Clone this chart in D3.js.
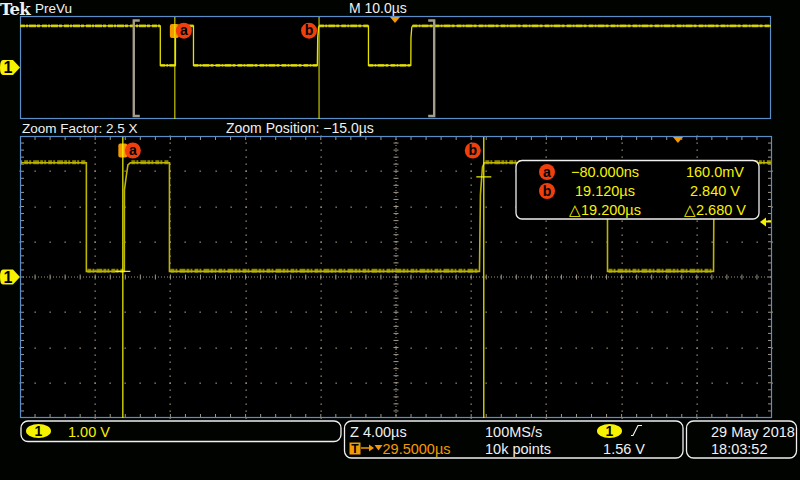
<!DOCTYPE html>
<html>
<head>
<meta charset="utf-8">
<script src="https://cdn.jsdelivr.net/npm/d3@7"></script>
<style>
body { margin: 0; background: #010301; }
svg { display: block; }
text { font-family: "Liberation Sans", Arial, sans-serif; }
</style>
</head>
<body>
<script>
// ---- values read from the screen ----
// channel 1 trace : time (us) / volts
var trace_t = [-20.7, -2.02, -2.02, 0.0, 0.005, 0.11, 0.19, 0.32, 2.40, 2.40, 18.89, 18.94, 19.05, 19.15, 25.70, 25.70, 31.34, 31.36, 31.47, 31.57, 79.3];
var trace_v = [3.24, 3.24, 0.16, 0.16, 2.47, 2.89, 3.18, 3.24, 3.24, 0.16, 0.16, 2.33, 3.12, 3.24, 3.24, 0.16, 0.16, 2.33, 3.12, 3.24, 3.24];

// cursors
var cursor_names = ["a", "b"];
var cursor_t = [-0.08, 19.12];
var cursor_v = [0.16, 2.84];

// readout box
var readout_time = ["\u221280.000ns", "19.120\u00b5s", "\u25b319.200\u00b5s"];
var readout_volt = ["160.0mV", "2.840 V", "\u25b32.680 V"];

// trigger
var trigger_t = 29.5;
var trigger_v = 1.56;

// time windows (us) and volts
var main_window = [-5.55, 34.45];
var prevu_window = [-20.7, 79.3];
var volt_window = [-4, 4];

var W = 800, H = 480;
var white = "#f0f0f0", yellow = "#f6f200", orange = "#f49a00", red = "#f03e0c";
var blue = "#5b8dc8", gridc = "#a09682";

var svg = d3.select("body").append("svg")
  .attr("width", W)
  .attr("height", H);

svg.append("rect").attr("width", W).attr("height", H).attr("fill", "#010301");

// scales
var xMain = d3.scaleLinear().domain(main_window).range([20, 772]);
var yMain = d3.scaleLinear().domain(volt_window).range([418, 136]);
var xUp = d3.scaleLinear().domain(prevu_window).range([20, 771]);
var yUp = d3.scaleLinear().domain(volt_window).range([119, 16]);
// graticule divisions
var gx = d3.scaleLinear().domain([0, 10]).range([20, 772]);
var gy = d3.scaleLinear().domain([0, 8]).range([136, 418]);

var defs = svg.append("defs");
defs.append("clipPath").attr("id", "clipMain")
  .append("rect").attr("x", 20).attr("y", 136).attr("width", 752).attr("height", 282);
defs.append("clipPath").attr("id", "clipUp")
  .append("rect").attr("x", 20).attr("y", 16).attr("width", 751).attr("height", 103);

var pts = trace_t.map(function(t, i){ return [t, trace_v[i]]; });

// flat pieces of the trace, used for the noise band
var flats = [];
for (var i = 0; i < pts.length - 1; i++) {
  if (pts[i][1] == pts[i+1][1] && pts[i][0] != pts[i+1][0]) flats.push([pts[i], pts[i+1]]);
}

// ---------------- header texts ----------------
svg.append("text").attr("x", 0).attr("y", 14.5)
  .style("font-family", "DejaVu Serif").style("font-weight", "bold")
  .style("font-size", "16.5px").style("letter-spacing", "-0.8px")
  .attr("fill", white).text("Tek");
svg.append("text").attr("x", 35).attr("y", 13).style("font-size", "13.5px")
  .attr("fill", white).text("PreVu");
svg.append("text").attr("x", 349).attr("y", 13).style("font-size", "14px")
  .attr("fill", white).text("M 10.0\u00b5s");
svg.append("text").attr("x", 22).attr("y", 132.5).style("font-size", "13.5px")
  .attr("fill", white).text("Zoom Factor: 2.5 X");
svg.append("text").attr("x", 226).attr("y", 132.5).style("font-size", "14px")
  .attr("fill", white).text("Zoom Position: \u221215.0\u00b5s");

// ---------------- PreVu (upper) ----------------
var gUp = svg.append("g");
gUp.append("rect").attr("x", 20.5).attr("y", 16.5).attr("width", 750).attr("height", 102)
  .attr("fill", "#000").attr("stroke", blue).attr("stroke-width", 1.2);

var lineUp = d3.line().x(function(d){ return xUp(d[0]); }).y(function(d){ return yUp(d[1]); });

gUp.append("g").attr("clip-path", "url(#clipUp)")
  .selectAll("line").data(flats).enter().append("line")
  .attr("x1", function(d){ return xUp(d[0][0]); })
  .attr("x2", function(d){ return xUp(d[1][0]); })
  .attr("y1", function(d){ return yUp(d[0][1]); })
  .attr("y2", function(d){ return yUp(d[1][1]); })
  .attr("stroke", "#b9b400").attr("stroke-width", 2.8)
  .attr("stroke-dasharray", "5,1,2,1,7,1,3,2");

gUp.append("path").attr("clip-path", "url(#clipUp)")
  .attr("d", lineUp(pts))
  .attr("fill", "none").attr("stroke", "#e6e200").attr("stroke-width", 1.3);

// zoom window brackets
var bl = xUp(main_window[0]), br = xUp(main_window[1]);
gUp.append("path").attr("d", "M" + (bl + 6) + ",20.5H" + bl + "V116H" + (bl + 6))
  .attr("fill", "none").attr("stroke", "#a39d8b").attr("stroke-width", 2.4);
gUp.append("path").attr("d", "M" + (br - 6) + ",20.5H" + br + "V116H" + (br - 6))
  .attr("fill", "none").attr("stroke", "#a39d8b").attr("stroke-width", 2.4);

// trigger position marker
var tx = xUp(trigger_t) - 2;
gUp.append("path").attr("d", "M" + (tx - 5) + ",17L" + (tx + 5) + ",17L" + tx + ",23Z").attr("fill", orange);

// ---------------- main (zoomed) graticule ----------------
var gMain = svg.append("g");
gMain.append("rect").attr("x", 20).attr("y", 136).attr("width", 752).attr("height", 282).attr("fill", "#000");

var dots = [];
d3.range(1, 10).forEach(function(i){
  if (i == 5) return;
  d3.range(0, 41).forEach(function(j){ dots.push([gx(i), gy(j / 5)]); });
});
d3.range(1, 8).forEach(function(k){
  if (k == 4) return;
  d3.range(0, 51).forEach(function(j){ dots.push([gx(j / 5), gy(k)]); });
});
gMain.append("g").selectAll("rect").data(dots).enter().append("rect")
  .attr("x", function(d){ return Math.round(d[0]) - 0.5; })
  .attr("y", function(d){ return Math.round(d[1]) - 0.5; })
  .attr("width", 1.3).attr("height", 1.3).attr("fill", gridc);

// centre lines
gMain.append("line").attr("x1", 20).attr("x2", 772).attr("y1", gy(4)).attr("y2", gy(4))
  .attr("stroke", gridc).attr("stroke-width", 1).attr("stroke-dasharray", "1,2");
gMain.append("line").attr("x1", gx(5)).attr("x2", gx(5)).attr("y1", 136).attr("y2", 418)
  .attr("stroke", gridc).attr("stroke-width", 1).attr("stroke-dasharray", "1,2");
gMain.append("g").selectAll("line").data(d3.range(1, 50)).enter().append("line")
  .attr("x1", function(d){ return gx(d / 5); }).attr("x2", function(d){ return gx(d / 5); })
  .attr("y1", gy(4) - 2.5).attr("y2", gy(4) + 2.5)
  .attr("stroke", gridc).attr("stroke-width", 1);
gMain.append("g").selectAll("line").data(d3.range(1, 40)).enter().append("line")
  .attr("y1", function(d){ return gy(d / 5); }).attr("y2", function(d){ return gy(d / 5); })
  .attr("x1", gx(5) - 2.5).attr("x2", gx(5) + 2.5)
  .attr("stroke", gridc).attr("stroke-width", 1);

// border ticks
var edge = gMain.append("g").attr("stroke", gridc).attr("stroke-width", 1);
d3.range(1, 40).forEach(function(j){
  edge.append("line").attr("x1", 21).attr("x2", 24).attr("y1", gy(j / 5)).attr("y2", gy(j / 5));
  edge.append("line").attr("x1", 768).attr("x2", 771).attr("y1", gy(j / 5)).attr("y2", gy(j / 5));
});
d3.range(1, 50).forEach(function(j){
  edge.append("line").attr("y1", 137).attr("y2", 140).attr("x1", gx(j / 5)).attr("x2", gx(j / 5));
  edge.append("line").attr("y1", 414).attr("y2", 417).attr("x1", gx(j / 5)).attr("x2", gx(j / 5));
});

// ---------------- main trace ----------------
var lineMain = d3.line().x(function(d){ return xMain(d[0]); }).y(function(d){ return yMain(d[1]); });

gMain.append("g").attr("clip-path", "url(#clipMain)")
  .selectAll("line").data(flats).enter().append("line")
  .attr("x1", function(d){ return xMain(d[0][0]) + 1; })
  .attr("x2", function(d){ return xMain(d[1][0]) - 1; })
  .attr("y1", function(d){ return yMain(d[0][1]) - 0.5; })
  .attr("y2", function(d){ return yMain(d[1][1]) - 0.5; })
  .attr("stroke", "#8d8800").attr("stroke-width", 4)
  .attr("stroke-dasharray", "4,1,2,2,6,1,3,1,2,2");

gMain.append("path").attr("clip-path", "url(#clipMain)")
  .attr("d", lineMain(pts))
  .attr("fill", "none").attr("stroke", "#bdb500").attr("stroke-width", 1.6);

// border of main window
gMain.append("rect").attr("x", 20.5).attr("y", 136.5).attr("width", 751).attr("height", 281)
  .attr("fill", "none").attr("stroke", blue).attr("stroke-width", 1.2);

// trigger position marker in main
var tm = xMain(trigger_t) - 1;
gMain.append("path").attr("d", "M" + (tm - 5) + ",137L" + (tm + 5) + ",137L" + tm + ",143Z").attr("fill", orange);

// trigger level marker (right)
var ty = yMain(trigger_v);
gMain.append("path").attr("d", "M760," + ty + "L766," + (ty - 4.5) + "L766," + (ty + 4.5) + "Z").attr("fill", yellow);
gMain.append("line").attr("x1", 765).attr("x2", 771).attr("y1", ty - 0.5).attr("y2", ty - 0.5)
  .attr("stroke", yellow).attr("stroke-width", 2);

// ---------------- cursors ----------------
function draw_marker(g, x, y, name){
  g.append("circle").attr("cx", x).attr("cy", y).attr("r", 8).attr("fill", red);
  g.append("text").attr("x", x).attr("y", y + 4.5).attr("text-anchor", "middle")
    .style("font-size", "14px").style("font-weight", "bold").attr("fill", "#000").text(name);
}

cursor_t.forEach(function(t, i){
  var cx = xUp(t);
  var off = (i == 0) ? 9 : -10;
  if (i == 0) {
    gUp.append("rect").attr("x", cx - 5).attr("y", 24).attr("width", 9).attr("height", 14).attr("rx", 2).attr("fill", orange);
  }
  gUp.append("line").attr("x1", cx).attr("x2", cx).attr("y1", 17).attr("y2", 119)
    .attr("stroke", "#eeee00").attr("stroke-width", 1);
  draw_marker(gUp, cx + off, 30.7, cursor_names[i]);

  var mx = xMain(t);
  var moff = (i == 0) ? 10 : -11;
  if (i == 0) {
    gMain.append("rect").attr("x", mx - 4.5).attr("y", 143.5).attr("width", 9).attr("height", 14).attr("rx", 2).attr("fill", orange);
  }
  gMain.append("line").attr("x1", mx).attr("x2", mx).attr("y1", 137).attr("y2", 418)
    .attr("stroke", "#f8f800").attr("stroke-width", 1.2);
  gMain.append("line").attr("x1", mx - 7.5).attr("x2", mx + 7.5)
    .attr("y1", yMain(cursor_v[i])).attr("y2", yMain(cursor_v[i]))
    .attr("stroke", "#f8f800").attr("stroke-width", 1.2);
  draw_marker(gMain, mx + moff, 150.5, cursor_names[i]);
});

// readout box
var rb = svg.append("g");
rb.append("rect").attr("x", 516).attr("y", 160.5).attr("width", 243).attr("height", 58.5).attr("rx", 6)
  .attr("fill", "#000").attr("stroke", white).attr("stroke-width", 1.3);
var rows = [177, 196, 214.5];
rows.forEach(function(y, i){
  if (i < 2) draw_marker(rb, 547, y - 5, cursor_names[i]);
  rb.append("text").attr("x", 605).attr("y", y).attr("text-anchor", "middle")
    .style("font-size", "14.5px").attr("fill", yellow).text(readout_time[i]);
  rb.append("text").attr("x", 715).attr("y", y).attr("text-anchor", "middle")
    .style("font-size", "14.5px").attr("fill", yellow).text(readout_volt[i]);
});

// channel 1 ground markers
function ground_marker(y){
  svg.append("path")
    .attr("d", "M3," + (y - 7.5) + "H13L20," + y + "L13," + (y + 7.5) + "H3Q0," + (y + 7.5) + " 0," + y + "Q0," + (y - 7.5) + " 3," + (y - 7.5) + "Z")
    .attr("fill", yellow);
  svg.append("text").attr("x", 8).attr("y", y + 5.5).attr("text-anchor", "middle")
    .style("font-size", "16px").style("font-weight", "bold").attr("fill", "#000").text("1");
}
ground_marker(yUp(0));
ground_marker(yMain(0));

// ---------------- bottom status panels ----------------
var bp = svg.append("g");
bp.append("rect").attr("x", 21).attr("y", 421).attr("width", 320).attr("height", 20.5).attr("rx", 7)
  .attr("fill", "none").attr("stroke", white).attr("stroke-width", 1.3);
bp.append("rect").attr("x", 344.5).attr("y", 421).attr("width", 338.5).attr("height", 37).attr("rx", 7)
  .attr("fill", "none").attr("stroke", white).attr("stroke-width", 1.3);
bp.append("rect").attr("x", 686.5).attr("y", 421).attr("width", 110).attr("height", 37).attr("rx", 7)
  .attr("fill", "none").attr("stroke", white).attr("stroke-width", 1.3);

function ch_badge(cx){
  bp.append("ellipse").attr("cx", cx).attr("cy", 431).attr("rx", 12.5).attr("ry", 7).attr("fill", yellow);
  bp.append("text").attr("x", cx).attr("y", 436).attr("text-anchor", "middle")
    .style("font-size", "14px").style("font-weight", "bold").attr("fill", "#000").text("1");
}
ch_badge(38.5);
bp.append("text").attr("x", 68).attr("y", 436.5).style("font-size", "14.5px").attr("fill", yellow).text("1.00 V");

bp.append("text").attr("x", 350).attr("y", 436.5).style("font-size", "14.5px").attr("fill", white).text("Z 4.00\u00b5s");
bp.append("rect").attr("x", 349.5).attr("y", 442.5).attr("width", 11).attr("height", 12).attr("fill", orange);
bp.append("text").attr("x", 355).attr("y", 453).attr("text-anchor", "middle")
  .style("font-size", "12px").style("font-weight", "bold").attr("fill", "#000").text("T");
bp.append("line").attr("x1", 361).attr("x2", 371).attr("y1", 448).attr("y2", 448)
  .attr("stroke", orange).attr("stroke-width", 1.5);
bp.append("path").attr("d", "M369,444.5L374,448L369,451.5Z").attr("fill", orange);
bp.append("path").attr("d", "M374.5,445L382.5,445L378.5,450.5Z").attr("fill", orange);
bp.append("text").attr("x", 382.5).attr("y", 454).style("font-size", "14.5px").attr("fill", orange).text("29.5000\u00b5s");

bp.append("text").attr("x", 485).attr("y", 436.5).style("font-size", "14.5px").attr("fill", white).text("100MS/s");
bp.append("text").attr("x", 485).attr("y", 454).style("font-size", "14.5px").attr("fill", white).text("10k points");

ch_badge(609.5);
bp.append("path").attr("d", "M631,435.5L633,435.5L638,425.5L642,425.5")
  .attr("fill", "none").attr("stroke", white).attr("stroke-width", 1.2);
bp.append("text").attr("x", 645).attr("y", 454).attr("text-anchor", "end")
  .style("font-size", "14.5px").attr("fill", white).text(trigger_v.toFixed(2) + " V");

bp.append("text").attr("x", 711).attr("y", 436.5).style("font-size", "14.5px").attr("fill", white).text("29 May 2018");
bp.append("text").attr("x", 711).attr("y", 454).style("font-size", "14.5px").attr("fill", white).text("18:03:52");
</script>
</body>
</html>
